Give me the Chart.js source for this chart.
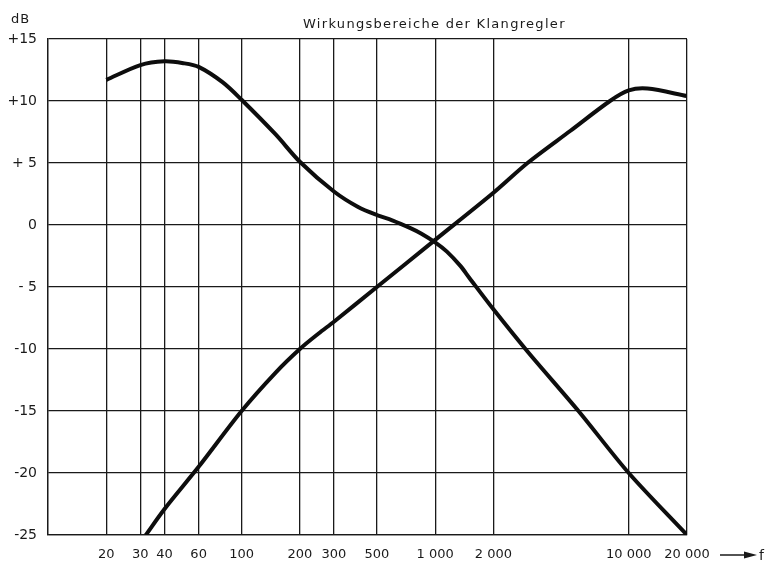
<!DOCTYPE html>
<html>
<head>
<meta charset="utf-8">
<script src="https://cdn.jsdelivr.net/npm/chart.js@4"></script>
<style>
  html, body { margin: 0; padding: 0; background: #fff; }
  #wrap { width: 778px; height: 562px; }
</style>
</head>
<body>
<div id="wrap"><canvas id="c" width="778" height="562"></canvas></div>
<script>
// frequency grid (Hz) and level ticks (dB)
const freqTicks = [10, 20, 30, 40, 60, 100, 200, 300, 500, 1000, 2000, 10000, 20000];
const dbTicks = [15, 10, 5, 0, -5, -10, -15, -20, -25];
const dbLabels = ['+15', '+10', '+ 5', '0', '- 5', '-10', '-15', '-20', '-25'];

// Tiefenregler (bass) curve
const bassFreq = [20, 30, 40, 50, 60, 80, 100, 150, 200, 300, 400, 500, 600, 750, 850, 1000, 1150, 1350, 1500, 2000, 3000, 5500, 10000, 20000];
const bassDb   = [11.7, 12.9, 13.2, 13.05, 12.75, 11.5, 10.1, 7.3, 5.1, 2.7, 1.45, 0.8, 0.38, -0.27, -0.7, -1.4, -2.15, -3.3, -4.25, -6.8, -10.2, -15, -20, -25];

// Hoehenregler (treble) curve
const trebleFreq = [32, 40, 60, 100, 150, 200, 250, 300, 500, 1000, 2000, 3000, 5000, 8000, 10000, 12500, 20000];
const trebleDb   = [-25, -22.9, -19.5, -15, -11.9, -10, -8.75, -7.8, -5, -1.2, 2.6, 5, 7.6, 10, 10.85, 11.0, 10.4];

const FONT = '"DejaVu Sans", sans-serif';
const INK = '#1a1a1a';

function fmtFreq(v) {
  if (v === 10) return '';
  return v >= 1000 ? String(v).replace(/(\d)(\d{3})$/, '$1 $2') : String(v);
}

const pairs = (xs, ys) => xs.map((x, i) => ({ x: x, y: ys[i] }));

const extraText = {
  id: 'extraText',
  afterDraw(chart) {
    const ctx = chart.ctx;
    ctx.save();
    ctx.fillStyle = INK;
    ctx.strokeStyle = INK;
    ctx.textBaseline = 'alphabetic';

    ctx.font = '13px ' + FONT;
    ctx.textAlign = 'left';
    ctx.letterSpacing = '1px';
    ctx.fillText('dB', 11, 23);

    ctx.letterSpacing = '1.3px';
    ctx.fillText('Wirkungsbereiche der Klangregler', 303, 28);

    // arrow -> f
    ctx.letterSpacing = '0px';
    ctx.lineWidth = 1.5;
    ctx.beginPath();
    ctx.moveTo(720, 555);
    ctx.lineTo(746, 555);
    ctx.stroke();
    ctx.beginPath();
    ctx.moveTo(744, 551.5);
    ctx.lineTo(757, 555);
    ctx.lineTo(744, 558.5);
    ctx.closePath();
    ctx.fill();
    ctx.font = '14px ' + FONT;
    ctx.fillText('f', 759, 560);
    ctx.restore();
  }
};

new Chart(document.getElementById('c'), {
  type: 'line',
  data: {
    datasets: [
      {
        label: 'Tiefen',
        data: pairs(bassFreq, bassDb),
        borderColor: '#0d0d0d',
        borderWidth: 4,
        pointRadius: 0,
        tension: 0.3,
        fill: false
      },
      {
        label: 'Hoehen',
        data: pairs(trebleFreq, trebleDb),
        borderColor: '#0d0d0d',
        borderWidth: 4,
        pointRadius: 0,
        tension: 0.3,
        fill: false
      }
    ]
  },
  options: {
    responsive: false,
    animation: false,
    layout: { padding: { top: 39, right: 91, left: 0, bottom: 0 } },
    plugins: {
      legend: { display: false },
      tooltip: { enabled: false },
      title: { display: false }
    },
    scales: {
      x: {
        type: 'logarithmic',
        min: 10,
        max: 20000,
        afterBuildTicks(scale) {
          scale.ticks = freqTicks.map(v => ({ value: v }));
        },
        afterFit(scale) { scale.height = 27; },
        grid: { color: INK, lineWidth: 1.3, drawTicks: false },
        border: { color: INK, width: 1.3 },
        ticks: {
          color: INK,
          padding: 12,
          autoSkip: false,
          maxRotation: 0,
          font: { family: FONT, size: 13 },
          callback: (v) => fmtFreq(v)
        }
      },
      y: {
        min: -25,
        max: 15,
        afterBuildTicks(scale) {
          scale.ticks = dbTicks.map(v => ({ value: v }));
        },
        afterFit(scale) { scale.width = 48; },
        grid: { color: INK, lineWidth: 1.3, drawTicks: false },
        border: { color: INK, width: 1.3 },
        ticks: {
          color: INK,
          padding: 11,
          font: { family: FONT, size: 14 },
          callback: (v) => dbLabels[dbTicks.indexOf(v)]
        }
      }
    }
  },
  plugins: [extraText]
});
</script>
</body>
</html>
